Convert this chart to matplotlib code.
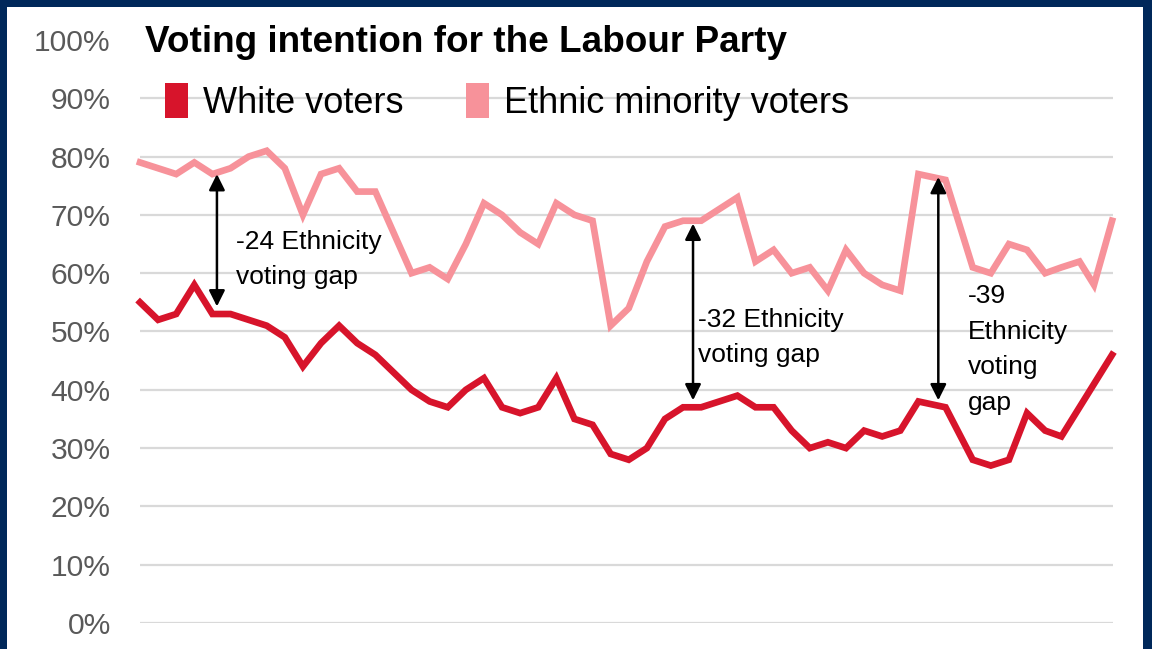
import matplotlib
matplotlib.use("Agg")
import matplotlib.pyplot as plt
from matplotlib.patches import Patch, Rectangle

plt.rcParams['font.family'] = ['Liberation Sans', 'DejaVu Sans']

# poll position (weeks, roughly) and Labour share in %
weeks = [0, 1, 2, 3, 4, 5, 6, 7, 8, 9,
         10, 11, 12, 13, 14, 15, 16, 17, 18, 19,
         20, 21, 22, 23, 24, 25, 26, 27, 28, 29,
         30, 31, 32, 33, 34, 35, 36, 37, 38, 39,
         40, 41, 42, 43, 44.5, 46, 47, 48, 49, 50,
         50.9, 51.9, 52.7, 53.7]
white = [55, 52, 53, 58, 53, 53, 52, 51, 49, 44,
         48, 51, 48, 46, 43, 40, 38, 37, 40, 42,
         37, 36, 37, 42, 35, 34, 29, 28, 30, 35,
         37, 37, 38, 39, 37, 37, 33, 30, 31, 30,
         33, 32, 33, 38, 37, 28, 27, 28, 36, 33,
         32, 37, 41, 46]
minority = [79, 78, 77, 79, 77, 78, 80, 81, 78, 70,
            77, 78, 74, 74, 67, 60, 61, 59, 65, 72,
            70, 67, 65, 72, 70, 69, 51, 54, 62, 68,
            69, 69, 71, 73, 62, 64, 60, 61, 57, 64,
            60, 58, 57, 77, 76, 61, 60, 65, 64, 60,
            61, 62, 58, 69]

# gap annotations: x, top, bottom, label, label x, label y
gap_x = [4.25, 30.55, 44.1]
gap_top = [77, 68.5, 76.5]
gap_bottom = [54.3, 38.2, 38.2]
gap_text = ["-24 Ethnicity\nvoting gap", "-32 Ethnicity\nvoting gap", "-39\nEthnicity\nvoting\ngap"]
text_x = [5.3, 30.85, 45.75]
text_y = [62.3, 49.0, 46.9]

RED = "#D7142B"
PINK = "#F7929A"
NAVY = "#00285A"

fig = plt.figure(figsize=(11.52, 6.49), dpi=100)
fig.patch.set_facecolor(NAVY)
fig.patches.append(Rectangle((7 / 1152, 0), (1143 - 7) / 1152, 1 - 7 / 649,
                             transform=fig.transFigure, facecolor="white",
                             edgecolor="none", zorder=-10))

ax = fig.add_axes([140 / 1152, 26 / 649, (1113 - 140) / 1152, (623 - 40) / 649])
ax.set_facecolor("none")

ax.plot(weeks, minority, color=PINK, lw=4.8, solid_joinstyle="miter", zorder=3, clip_on=False)
ax.plot(weeks, white, color=RED, lw=4.8, solid_joinstyle="miter", zorder=3, clip_on=False)

for i in range(len(gap_x)):
    ax.annotate("", xy=(gap_x[i], gap_top[i]), xytext=(gap_x[i], gap_bottom[i]),
                arrowprops=dict(arrowstyle="<|-|>", color="black", lw=1.8,
                                mutation_scale=24, shrinkA=0, shrinkB=0),
                zorder=4)
    ax.text(text_x[i], text_y[i], gap_text[i], fontsize=19, ha="left", va="center",
            linespacing=1.6, color="black", zorder=5)

ax.set_xlim(0, 53.75)
ax.set_ylim(0, 100)
ax.set_yticks(range(0, 101, 10))
ax.set_yticklabels([f"{v}%" for v in range(0, 101, 10)])
ax.set_xticks([])
ax.tick_params(axis="y", length=0, pad=21, labelsize=21.6, labelcolor="#595959")
ax.grid(axis="y", color="#D9D9D9", lw=1.6, zorder=1)
ax.get_ygridlines()[-1].set_visible(False)
ax.set_axisbelow(True)
for s in ax.spines.values():
    s.set_visible(False)

fig.text(145 / 1152, 1 - 43 / 649, "Voting intention for the Labour Party",
         fontsize=26.6, fontweight="bold", ha="left", va="center")

handles = [Patch(facecolor=RED, edgecolor="none"), Patch(facecolor=PINK, edgecolor="none")]
fig.legend(handles, ["White voters", "Ethnic minority voters"], ncol=2,
           loc="center left", bbox_to_anchor=(165 / 1152, 1 - 102 / 649),
           frameon=False, fontsize=26, handlelength=0.64, handleheight=1.1,
           handletextpad=0.4, columnspacing=1.75, borderpad=0, borderaxespad=0)

fig.savefig("out.png", dpi=100, facecolor=fig.get_facecolor())
